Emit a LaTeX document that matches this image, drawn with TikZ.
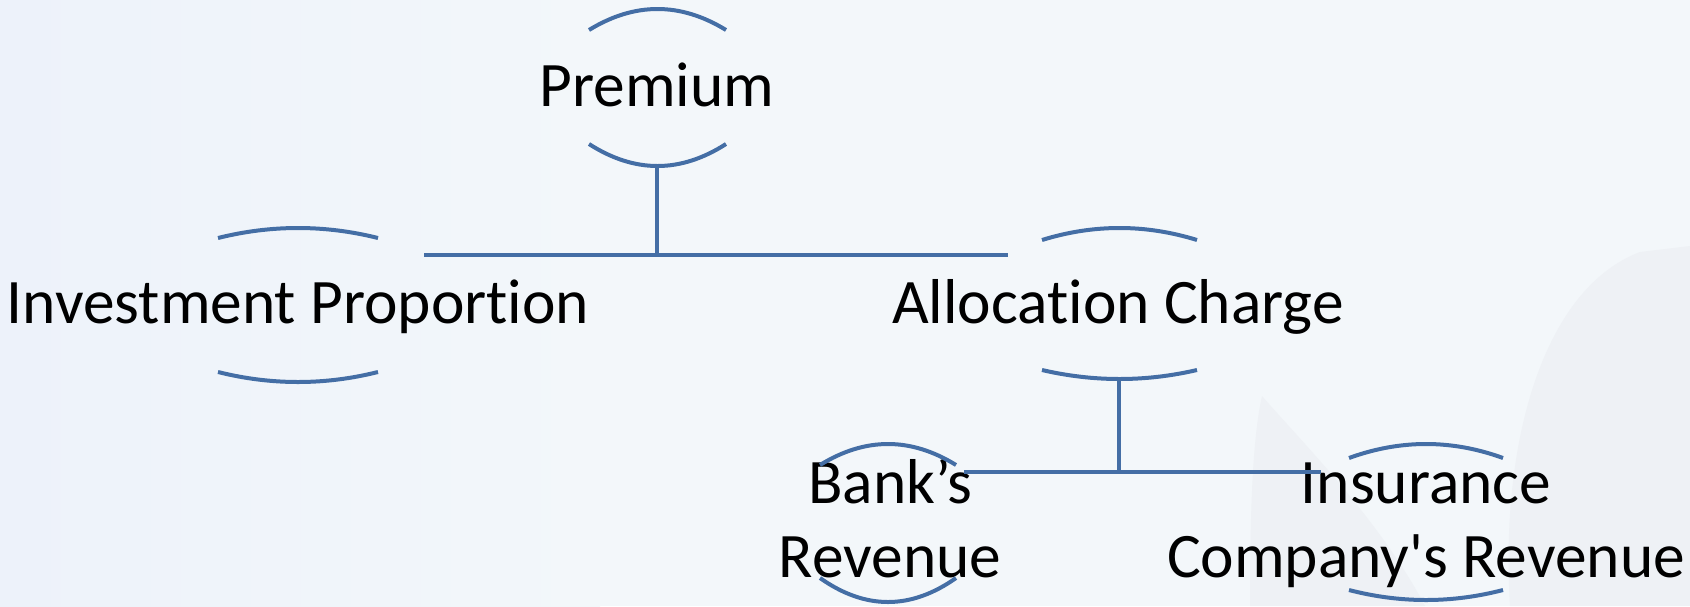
\documentclass[tikz,border=0pt]{standalone}
\usepackage{fontspec}
\setmainfont{Carlito}[Ligatures={TeXOff,CommonOff}]
\usetikzlibrary{calc}
\definecolor{rimblue}{RGB}{68,110,165}
\definecolor{paper}{RGB}{243,247,250}
\definecolor{paperleft}{RGB}{237,242,250}
\definecolor{leafgray}{RGB}{238,241,245}
\tikzset{
	rim/.style={draw=rimblue, line width=2pt},
	term/.style={font=\fontsize{31.7}{37}\selectfont, align=center, inner sep=0pt},
}
% two flat arcs above and below a term: cx, half width, top y, top sag, bottom y, bottom sag
\newcommand{\rims}[6]{%
	\draw[rim] (#1-#2,#3) .. controls (#1-#2/3,#3-4*#4/3) and (#1+#2/3,#3-4*#4/3) .. (#1+#2,#3);
	\draw[rim] (#1-#2,#5) .. controls (#1-#2/3,#5+4*#6/3) and (#1+#2/3,#5+4*#6/3) .. (#1+#2,#5);}

\begin{document}
\begin{tikzpicture}[x=0.5pt,y=-0.5pt]
	\useasboundingbox (0,0) rectangle (1690,606);
	\shade[left color=paperleft, right color=paper] (0,0) rectangle (600,606);
	\fill[paper] (600,0) rectangle (1690,606);
	% faint leaves in the corner
	\fill[leafgray] (1262,396) .. controls (1300,440) and (1380,520) .. (1425,606) -- (1250,606) .. controls (1250,520) and (1252,440) .. (1262,396) -- cycle;
	\fill[leafgray] (1510,606) .. controls (1500,450) and (1540,290) .. (1640,252) -- (1690,246) -- (1690,606) -- cycle;

	\node[term, anchor=base] (prem) at (657,106) {Premium};
	\node[term, anchor=base] (invest) at (298,323) {Investment Proportion};
	\node[term, anchor=base] (alloc) at (1118,323) {Allocation Charge};
	\node[term, anchor=base] (bank) at (890,577) {Bank’s\\Revenue};
	\node[term, anchor=base] (insur) at (1426,577) {Insurance\\Company's Revenue};

	\rims{657.5}{68.5}{30}{21}{144}{22}
	\rims{298}{80}{238}{10}{372}{10}
	\rims{1119.5}{77.5}{240}{12}{370}{9}
	\rims{888}{68}{465}{21}{578}{24}
	\rims{1426}{77}{458}{14}{590}{10}

	\coordinate (premfoot) at (657,166);
	\coordinate (split1) at (657,255);
	\coordinate (bar1l) at (424,255);
	\coordinate (bar1r) at (1008,255);
	\coordinate (allocfoot) at (1119,379);
	\coordinate (split2) at (1119,472);
	\coordinate (bar2l) at (964,472);
	\coordinate (bar2r) at (1321,472);
	\draw[rim] (premfoot)--(split1);
	\draw[rim] (bar1l)--(bar1r);
	\draw[rim] (allocfoot)--(split2);
	\draw[rim] (bar2l)--(bar2r);
\end{tikzpicture}
\end{document}
